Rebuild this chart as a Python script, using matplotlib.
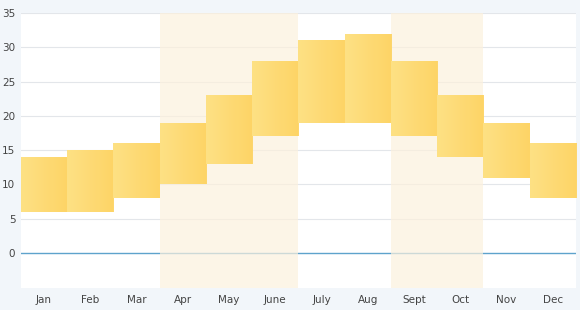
import numpy as np
import matplotlib
matplotlib.use("Agg")
import matplotlib.pyplot as plt
from matplotlib.colors import LinearSegmentedColormap

months = ["Jan", "Feb", "Mar", "Apr", "May", "June", "July", "Aug", "Sept", "Oct", "Nov", "Dec"]
low = [6, 6, 8, 10, 13, 17, 19, 19, 17, 14, 11, 8]
high = [14, 15, 16, 19, 23, 28, 31, 32, 28, 23, 19, 16]
bands = [(3, 5), (8, 9)]  # shaded month ranges

fig = plt.figure(figsize=(5.8, 3.1), dpi=100, facecolor="#f2f6fa")
ax = fig.add_axes([0.036, 0.071, 0.957, 0.887])
ax.set_facecolor("white")

x = np.arange(len(months))

# grid first, then the bands lie over it
for yv in range(5, 36, 5):
    ax.axhline(yv, color="#e3e6ea", lw=0.8, zorder=1)
ax.axhline(0, color="#5ea3cc", lw=1.0, zorder=1)

for a, b in bands:
    ax.axvspan(a - 0.5, b + 0.5, color="#fcf1dd", alpha=0.7, lw=0, zorder=1.5)

cmap = LinearSegmentedColormap.from_list("g", ["#fee286", "#fdd466"])
grad = np.linspace(0, 1, 64).reshape(1, -1)
bars = ax.bar(x, np.array(high) - np.array(low), bottom=low, width=1.0,
              color="#fdd870", edgecolor="none", zorder=2)
for rect in bars:
    x0, y0 = rect.get_x(), rect.get_y()
    im = ax.imshow(grad, cmap=cmap, aspect="auto", zorder=3,
                   extent=[x0, x0 + rect.get_width(), y0, y0 + rect.get_height()],
                   alpha=0.95)
    im.set_clip_path(rect)
ax.set_xlim(-0.5, len(months) - 0.5)
ax.set_ylim(-5.1, 35)

ax.set_xticks(x)
ax.set_xticklabels(months)
ax.set_yticks(range(0, 36, 5))
ax.tick_params(length=0, labelsize=7.5, colors="#444444", pad=5)
ax.tick_params(axis="y", pad=4)
for s in ax.spines.values():
    s.set_visible(False)

fig.savefig("out.png", dpi=100, facecolor=fig.get_facecolor())
